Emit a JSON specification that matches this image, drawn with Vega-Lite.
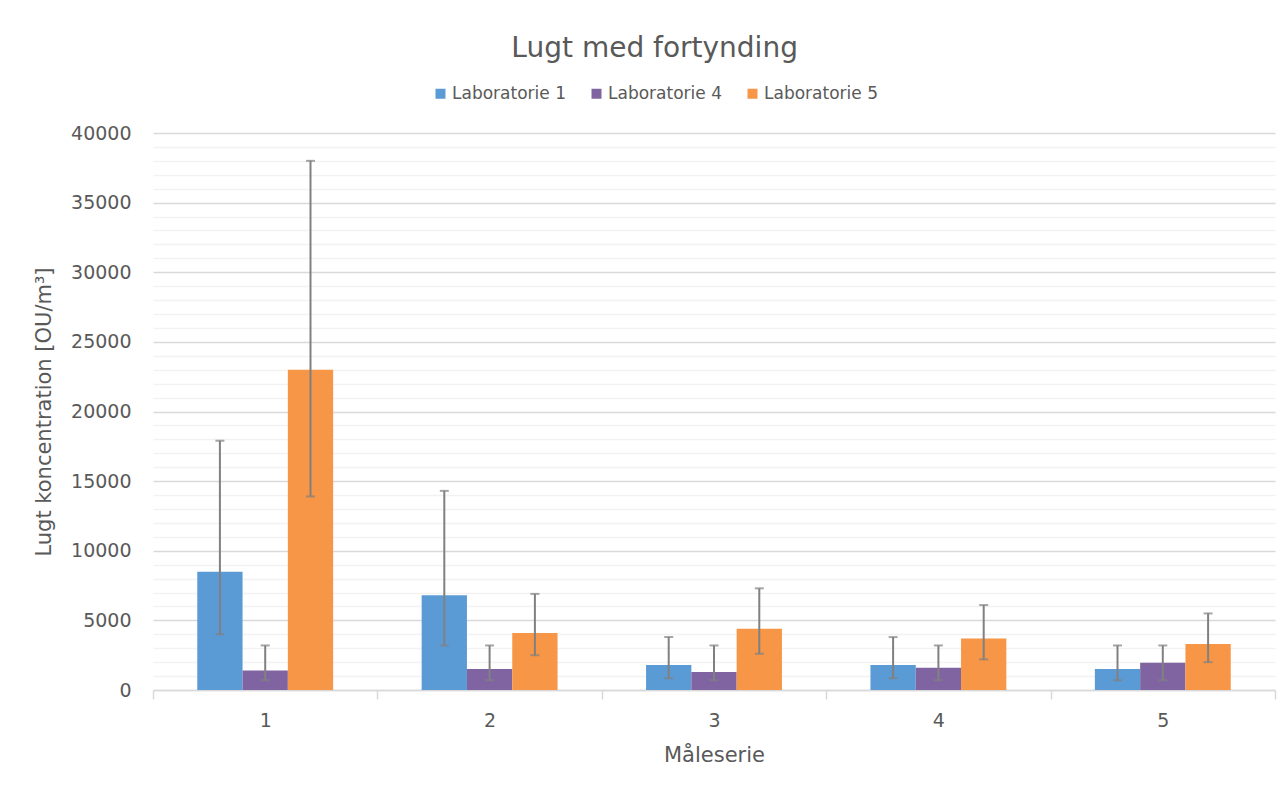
{
  "$schema": "https://vega.github.io/schema/vega-lite/v6.json",
  "width": 1122,
  "height": 557,
  "autosize": "none",
  "padding": {"left": 153, "top": 133, "right": 6, "bottom": 97},
  "background": "white",
  "title": {
    "text": "Lugt med fortynding",
    "font": "DejaVu Sans",
    "fontSize": 28,
    "fontWeight": "normal",
    "color": "#595959",
    "anchor": "middle",
    "frame": "bounds",
    "offset": 22
  },
  "config": {
    "view": {"stroke": null},
    "font": "DejaVu Sans"
  },
  "data": {
    "values": [
      {"serie": "1", "lab": "Laboratorie 1", "value": 8500, "lo": 4000, "hi": 17900},
      {"serie": "1", "lab": "Laboratorie 4", "value": 1400, "lo": 700, "hi": 3200},
      {"serie": "1", "lab": "Laboratorie 5", "value": 23000, "lo": 13900, "hi": 38000},
      {"serie": "2", "lab": "Laboratorie 1", "value": 6800, "lo": 3200, "hi": 14300},
      {"serie": "2", "lab": "Laboratorie 4", "value": 1500, "lo": 700, "hi": 3200},
      {"serie": "2", "lab": "Laboratorie 5", "value": 4100, "lo": 2500, "hi": 6900},
      {"serie": "3", "lab": "Laboratorie 1", "value": 1800, "lo": 850, "hi": 3800},
      {"serie": "3", "lab": "Laboratorie 4", "value": 1300, "lo": 700, "hi": 3200},
      {"serie": "3", "lab": "Laboratorie 5", "value": 4400, "lo": 2600, "hi": 7300},
      {"serie": "4", "lab": "Laboratorie 1", "value": 1800, "lo": 850, "hi": 3800},
      {"serie": "4", "lab": "Laboratorie 4", "value": 1600, "lo": 700, "hi": 3200},
      {"serie": "4", "lab": "Laboratorie 5", "value": 3700, "lo": 2200, "hi": 6100},
      {"serie": "5", "lab": "Laboratorie 1", "value": 1500, "lo": 700, "hi": 3200},
      {"serie": "5", "lab": "Laboratorie 4", "value": 1950, "lo": 700, "hi": 3200},
      {"serie": "5", "lab": "Laboratorie 5", "value": 3300, "lo": 2000, "hi": 5500}
    ]
  },
  "encoding": {
    "x": {
      "field": "serie",
      "type": "nominal",
      "scale": {"paddingInner": 0, "paddingOuter": 0},
      "axis": {
        "title": "Måleserie",
        "titleFontSize": 21,
        "titleFontWeight": "normal",
        "titleColor": "#595959",
        "titlePadding": 14,
        "labelAngle": 0,
        "labelFontSize": 19,
        "labelColor": "#595959",
        "labelPadding": 12,
        "tickBand": "extent",
        "tickColor": "#d9d9d9",
        "tickSize": 9,
        "tickWidth": 1.5,
        "domainColor": "#d9d9d9",
        "domainWidth": 1.5,
        "grid": false
      }
    },
    "xOffset": {
      "field": "lab",
      "type": "nominal",
      "scale": {"paddingInner": 0, "paddingOuter": 0.977}
    }
  },
  "layer": [
    {
      "mark": {"type": "bar"},
      "encoding": {
        "y": {
          "field": "value",
          "type": "quantitative",
          "scale": {"domain": [0, 40000], "nice": false},
          "axis": {
            "title": "Lugt koncentration [OU/m³]",
            "titleFontSize": 21,
            "titleFontWeight": "normal",
            "titleColor": "#595959",
            "titlePadding": 16,
            "tickCount": 40,
            "labelExpr": "datum.value % 5000 === 0 ? format(datum.value, 'd') : ''",
            "labelOverlap": false,
            "labelFontSize": 19,
            "labelColor": "#595959",
            "labelPadding": 22,
            "ticks": false,
            "domain": false,
            "grid": true,
            "gridColor": {"condition": {"test": "datum.value % 5000 === 0", "value": "#d9d9d9"}, "value": "#f2f2f2"},
            "gridWidth": 1.5
          }
        },
        "color": {
          "field": "lab",
          "type": "nominal",
          "scale": {"domain": ["Laboratorie 1", "Laboratorie 4", "Laboratorie 5"], "range": ["#5b9bd5", "#8064a2", "#f79646"]},
          "legend": {
            "title": null,
            "orient": "none",
            "legendX": 279,
            "legendY": -48,
            "direction": "horizontal",
            "symbolType": "square",
            "symbolSize": 100,
            "symbolStrokeWidth": 0,
            "labelFontSize": 17,
            "labelColor": "#595959",
            "labelOffset": 3,
            "columnPadding": 22
          }
        }
      }
    },
    {
      "mark": {"type": "rule", "color": "#808080", "strokeWidth": 2},
      "encoding": {
        "y": {"field": "lo", "type": "quantitative"},
        "y2": {"field": "hi"}
      }
    },
    {
      "mark": {"type": "tick", "color": "#808080", "thickness": 2, "size": 9, "orient": "horizontal"},
      "encoding": {
        "y": {"field": "lo", "type": "quantitative"}
      }
    },
    {
      "mark": {"type": "tick", "color": "#808080", "thickness": 2, "size": 9, "orient": "horizontal"},
      "encoding": {
        "y": {"field": "hi", "type": "quantitative"}
      }
    }
  ]
}
